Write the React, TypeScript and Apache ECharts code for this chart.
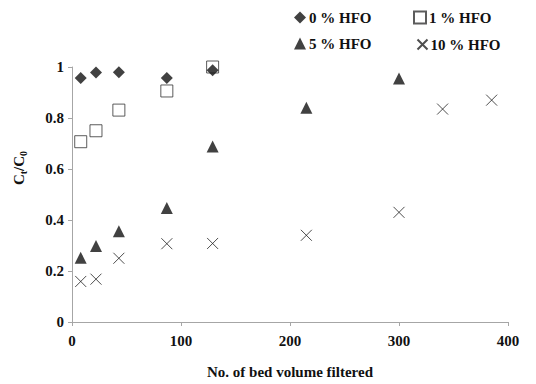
import React, { useEffect, useRef } from "react";
import * as echarts from "echarts";

const xTicks = [0, 100, 200, 300, 400];
const yTicks = [0, 0.2, 0.4, 0.6, 0.8, 1];

const bv0 = [8, 22, 43, 87, 129];
const hfo0 = [0.957, 0.978, 0.979, 0.957, 0.987];
const bv1 = [8, 22, 43, 87, 129];
const hfo1 = [0.707, 0.75, 0.831, 0.906, 1.0];
const bv5 = [8, 22, 43, 87, 129, 215, 300];
const hfo5 = [0.252, 0.298, 0.356, 0.447, 0.688, 0.84, 0.955];
const bv10 = [8, 22, 43, 87, 129, 215, 300, 340, 385];
const hfo10 = [0.159, 0.168, 0.25, 0.307, 0.308, 0.34, 0.43, 0.835, 0.87];

const seriesNames = ["0 % HFO", "1 % HFO", "5 % HFO", "10 % HFO"];

const FONT = "'Liberation Serif', 'Times New Roman', serif";
const CROSS = "path://M0,0L10,10M10,0L0,10";

const pair = (xs: number[], ys: number[]) => xs.map((x, i) => [x, ys[i]]);

export default function App() {
  const ref = useRef<HTMLDivElement>(null);
  useEffect(() => {
    if (!ref.current) return;
    const chart = echarts.init(ref.current, null, { renderer: "svg" });
    const textStyle = { fontFamily: FONT, fontWeight: "bold" as const, fontSize: 15, color: "#111" };
    const legendAt = (name: string, icon: string, left: number, top: number, size = 12) => ({
      data: [{ name, icon }],
      left,
      top,
      orient: "horizontal",
      itemWidth: size,
      itemHeight: size,
      itemGap: 0,
      padding: 0,
      textStyle: { ...textStyle, padding: [0, 0, 0, -2] },
    });
    chart.setOption({
      animation: false,
      grid: { left: 72, right: 28, top: 67, bottom: 61 },
      legend: [
        legendAt(seriesNames[0], "diamond", 294, 10),
        legendAt(seriesNames[1], "rect", 413, 10),
        legendAt(seriesNames[2], "triangle", 294, 36),
        legendAt(seriesNames[3], CROSS, 415, 37, 10),
      ],
      xAxis: {
        type: "value",
        min: xTicks[0],
        max: xTicks[xTicks.length - 1],
        interval: 100,
        name: "No. of bed volume filtered",
        nameLocation: "middle",
        nameGap: 42,
        nameTextStyle: textStyle,
        axisLine: { show: true, lineStyle: { color: "#a6a6a6", width: 1 } },
        axisTick: { show: true, length: 4, lineStyle: { color: "#a6a6a6" } },
        axisLabel: { ...textStyle, margin: 11 },
        splitLine: { show: false },
      },
      yAxis: {
        type: "value",
        min: yTicks[0],
        max: yTicks[yTicks.length - 1],
        interval: 0.2,
        axisLine: { show: true, lineStyle: { color: "#a6a6a6", width: 1 } },
        axisTick: { show: true, length: 4, lineStyle: { color: "#a6a6a6" } },
        axisLabel: { ...textStyle, margin: 8 },
        splitLine: { show: false },
      },
      graphic: [
        {
          type: "text",
          x: 19,
          y: 168,
          rotation: Math.PI / 2,
          style: {
            text: "{a|C}{b|t}{a|/C}{b|0}",
            textAlign: "center",
            textVerticalAlign: "middle",
            rich: {
              a: { fontFamily: FONT, fontWeight: "bold", fontSize: 15, fill: "#111", lineHeight: 18 },
              b: { fontFamily: FONT, fontWeight: "bold", fontSize: 10, fill: "#111", verticalAlign: "bottom", lineHeight: 8, padding: [6, 0, 0, 0] },
            },
          },
        },
      ],
      series: [
        {
          name: seriesNames[1],
          type: "scatter",
          symbol: "rect",
          symbolSize: 12,
          itemStyle: { color: "#fff", borderColor: "#333", borderWidth: 1 },
          data: pair(bv1, hfo1),
          z: 2,
        },
        {
          name: seriesNames[0],
          type: "scatter",
          symbol: "diamond",
          symbolSize: 12,
          itemStyle: { color: "#111" },
          data: pair(bv0, hfo0),
          z: 3,
        },
        {
          name: seriesNames[2],
          type: "scatter",
          symbol: "triangle",
          symbolSize: 12,
          itemStyle: { color: "#111" },
          data: pair(bv5, hfo5),
          z: 2,
        },
        {
          name: seriesNames[3],
          type: "scatter",
          symbol: CROSS,
          symbolSize: 11,
          itemStyle: { color: "none", borderColor: "#222", borderWidth: 1 },
          data: pair(bv10, hfo10),
          z: 2,
        },
      ],
    });
    return () => chart.dispose();
  }, []);
  return <div ref={ref} style={{ width: 536, height: 384, position: "absolute", left: 0, top: 0 }} />;
}
